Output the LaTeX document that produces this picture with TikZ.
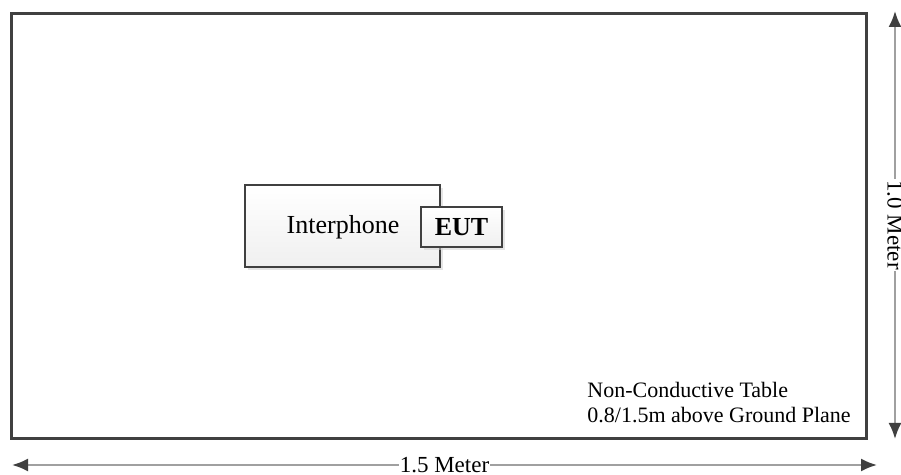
\documentclass[tikz,border=0pt]{standalone}
\usepackage{fontspec}
\setmainfont{Liberation Serif}
\usetikzlibrary{arrows.meta,shadows}
\definecolor{edgegray}{HTML}{404040}
\definecolor{linegray}{HTML}{A0A0A0}
\tikzset{
  dimarrow/.style={draw=linegray,line width=1pt,{Latex[length=8pt,width=6.5pt,color=edgegray]}-{Latex[length=8pt,width=6.5pt,color=edgegray]}},
  devicebox/.style={rectangle,draw=edgegray,line width=1pt,top color=white,bottom color=gray!12,drop shadow={shadow xshift=1.5pt,shadow yshift=-1.5pt,fill=gray!40}}
}
\begin{document}
\begin{tikzpicture}[x=0.5pt,y=-0.5pt]
  \useasboundingbox (0,0) rectangle (901,475);
  % draw table box
  \node at(439,226)[rectangle,draw=edgegray,line width=1.5pt,minimum width=427.5pt,minimum height=212.5pt,inner sep=0pt](table){};
  % draw interphone box
  \node at(342.5,226)[devicebox,minimum width=97.5pt,minimum height=41pt,inner sep=0pt](interphone){};
  \node at(343,227)[font=\fontsize{13}{15}\selectfont](interphonetext){Interphone};
  % draw EUT box
  \node at(461.5,227)[devicebox,minimum width=40.5pt,minimum height=20pt,inner sep=0pt,font=\fontsize{13}{15}\selectfont\bfseries](eut){EUT};
  % draw table text
  \node at(587,403)[anchor=west,align=left,font=\fontsize{11}{12.5}\selectfont,inner sep=0pt](tabletext){Non-Conductive Table\\0.8/1.5m above Ground Plane};
  % draw dimension arrows
  \coordinate (bl) at(12,465);
  \coordinate (br) at(877,465);
  \coordinate (rt) at(895,11);
  \coordinate (rb) at(895,439);
  \draw[dimarrow](bl) -- (br) node[midway,fill=white,inner sep=0.5pt,font=\fontsize{11.5}{13}\selectfont]{1.5 Meter};
  \draw[dimarrow](rt) -- (rb) node[midway,fill=white,inner sep=0.5pt,rotate=-90,font=\fontsize{11.5}{13}\selectfont]{1.0 Meter};
\end{tikzpicture}
\end{document}
